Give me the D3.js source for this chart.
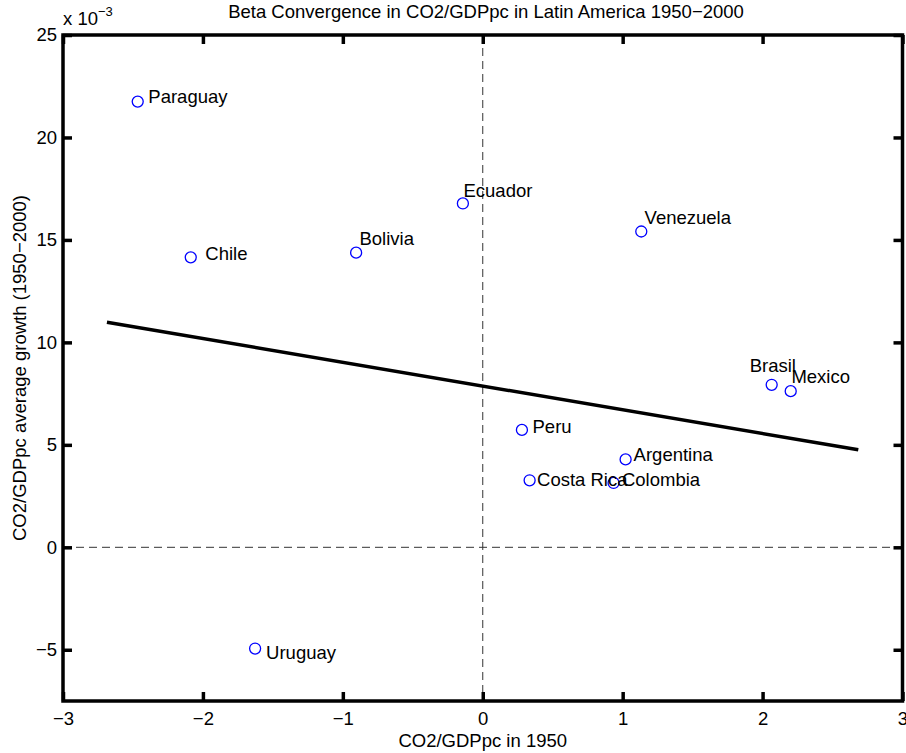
<!DOCTYPE html>
<html>
<head>
<meta charset="utf-8">
<script src="https://cdn.jsdelivr.net/npm/d3@7"></script>
<style>
body { margin: 0; background: #fff; }
text { font-family: "Liberation Sans", Arial, Helvetica, sans-serif; }
</style>
</head>
<body>
<svg id="chart" width="906" height="753"></svg>
<script>
// ---- data ----
const countries = ["Paraguay","Chile","Bolivia","Ecuador","Venezuela","Uruguay","Peru","Argentina","Costa Rica","Colombia","Brasil","Mexico"];
const co2gdp1950 = [-2.466,-2.087,-0.905,-0.142,1.133,-1.627,0.280,1.021,0.335,0.935,2.065,2.201];
const avgGrowth = [21.75,14.15,14.38,16.78,15.41,-4.94,5.73,4.29,3.27,3.14,7.93,7.62]; // x 10^-3
const fitX = [-2.686, 2.684];
const fitY = [10.98, 4.76]; // x 10^-3
const xTicks = [-3,-2,-1,0,1,2,3];
const yTicks = [-5,0,5,10,15,20,25];
// label placement (pixel offsets from each marker)
const labelDx = [10.6,14.6,3.3,0.6,3.3,11,10.6,8,7.4,8.4,-22,0.7];
const labelDy = [1,2.6,-7.7,-6,-8,10,3,2,6,3.3,-12.6,-8];

const svg = d3.select("#chart");
const L = 63, R = 902.5, T = 35, B = 701;
const x = d3.scaleLinear().domain([-3,3]).range([L,R]);
const y = d3.scaleLinear().domain([-7.5,25]).range([B,T]);
const fs = 18.5;
const fmt = d => d < 0 ? "\u2212" + Math.abs(d) : String(d);

// dashed zero lines
svg.append("line").attr("x1",x(0)).attr("x2",x(0)).attr("y1",T).attr("y2",B)
  .attr("stroke","#333").attr("stroke-width",1).attr("stroke-dasharray","8,5");
svg.append("line").attr("x1",L).attr("x2",R).attr("y1",y(0)).attr("y2",y(0))
  .attr("stroke","#333").attr("stroke-width",1).attr("stroke-dasharray","8,5");

// regression line
svg.append("path")
  .datum(fitX.map((v,i)=>[v,fitY[i]]))
  .attr("d", d3.line().x(d=>x(d[0])).y(d=>y(d[1])))
  .attr("stroke","#000").attr("stroke-width",3.5).attr("fill","none");

// axes (ticks inward)
const tickLen = 9;
const axB = d3.axisBottom(x).tickValues(xTicks).tickSize(-tickLen).tickPadding(11).tickFormat(fmt);
const axT = d3.axisTop(x).tickValues(xTicks).tickSize(-tickLen).tickFormat("");
const axL = d3.axisLeft(y).tickValues(yTicks).tickSize(-tickLen).tickPadding(6).tickFormat(fmt);
const axR = d3.axisRight(y).tickValues(yTicks).tickSize(-tickLen).tickFormat("");
function style(g){
  g.select(".domain").remove();
  g.selectAll(".tick line").attr("stroke","#000").attr("stroke-width",3.5);
  g.selectAll(".tick text").attr("fill","#000").style("font-size",fs+"px")
   .style("font-family","'Liberation Sans', Arial, sans-serif");
}
svg.append("g").attr("transform",`translate(0,${B})`).call(axB).call(style);
svg.append("g").attr("transform",`translate(0,${T})`).call(axT).call(style);
svg.append("g").attr("transform",`translate(${L},0)`).call(axL).call(style);
svg.append("g").attr("transform",`translate(${R},0)`).call(axR).call(style);

// frame
svg.append("rect").attr("x",L).attr("y",T).attr("width",R-L).attr("height",B-T)
  .attr("fill","none").attr("stroke","#000").attr("stroke-width",3.5);

// points
svg.selectAll("circle.pt").data(countries).enter().append("circle")
  .attr("class","pt")
  .attr("cx",(d,i)=>x(co2gdp1950[i])).attr("cy",(d,i)=>y(avgGrowth[i]))
  .attr("r",5.5).attr("fill","none").attr("stroke","#0000ff").attr("stroke-width",1.3);

// labels
svg.selectAll("text.lbl").data(countries).enter().append("text")
  .attr("class","lbl")
  .attr("x",(d,i)=>x(co2gdp1950[i]) + labelDx[i])
  .attr("y",(d,i)=>y(avgGrowth[i]) + labelDy[i])
  .style("font-size",fs+"px").attr("fill","#000")
  .text(d=>d);

// title
svg.append("text").attr("x",486).attr("y",18).attr("text-anchor","middle")
  .style("font-size",fs+"px").text("Beta Convergence in CO2/GDPpc in Latin America 1950\u22122000");

// axis labels
svg.append("text").attr("x",x(0)).attr("y",747).attr("text-anchor","middle")
  .style("font-size",fs+"px").text("CO2/GDPpc in 1950");
svg.append("text").attr("transform",`translate(26,${(T+B)/2}) rotate(-90)`)
  .attr("text-anchor","middle").style("font-size",fs+"px")
  .text("CO2/GDPpc average growth (1950\u22122000)");

// exponent
const ex = svg.append("text").attr("x",L).attr("y",25).style("font-size",fs+"px");
ex.append("tspan").text("x 10");
ex.append("tspan").attr("dy",-9).style("font-size","13px").text("\u22123");
</script>
</body>
</html>
